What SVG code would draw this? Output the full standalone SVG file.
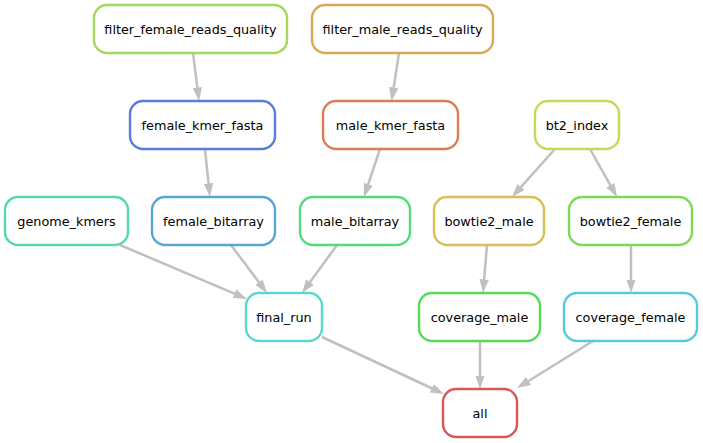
<svg xmlns="http://www.w3.org/2000/svg" width="703" height="443" viewBox="0 0 703 443">
<style>
.n rect{fill:#fff;stroke-width:2.4}
.n text{font-family:"DejaVu Sans",sans-serif;font-size:12.8px;text-anchor:middle;fill:#000}
.e path{fill:none;stroke:#c0c0c0;stroke-width:2.5}
</style>
<defs>
<marker id="ah" markerUnits="userSpaceOnUse" markerWidth="13.5" markerHeight="9.4" refX="0.5" refY="4.7" orient="auto" viewBox="0 0 13.5 9.4">
<path d="M0,0 L13.5,4.7 L0,9.4 z" fill="#c0c0c0"/>
</marker>
</defs>
<rect width="703" height="443" fill="#fff"/>
<g id="connectors" class="e">
<path d="M193,53 L197.4,88.1" marker-end="url(#ah)"/>
<path d="M399,53 L393.6,88.1" marker-end="url(#ah)"/>
<path d="M205,149 L208.6,184.1" marker-end="url(#ah)"/>
<path d="M380,149 L368.1,184.7" marker-end="url(#ah)"/>
<path d="M555,149 L520.7,187.3" marker-end="url(#ah)"/>
<path d="M590,149 L610.6,185.7" marker-end="url(#ah)"/>
<path d="M120,245 L235,293.9" marker-end="url(#ah)"/>
<path d="M231,245 L259.2,282.6" marker-end="url(#ah)"/>
<path d="M337,245 L309.7,282.5" marker-end="url(#ah)"/>
<path d="M487,245 L484.1,280" marker-end="url(#ah)"/>
<path d="M631,245 L631,280" marker-end="url(#ah)"/>
<path d="M322,337 L432.2,388.5" marker-end="url(#ah)"/>
<path d="M480,341 L480,376" marker-end="url(#ah)"/>
<path d="M593,341 L528.1,381.2" marker-end="url(#ah)"/>
</g>
<g id="filter_female_reads_quality" class="n"><rect x="94" y="5" width="193" height="48" rx="13" stroke="#a2d957"/><text x="190.5" y="33.5">filter_female_reads_quality</text></g>
<g id="filter_male_reads_quality" class="n"><rect x="312" y="5" width="181" height="48" rx="13" stroke="#d9a857"/><text x="402.5" y="33.5">filter_male_reads_quality</text></g>
<g id="female_kmer_fasta" class="n"><rect x="130" y="101" width="145" height="48" rx="13" stroke="#577ed9"/><text x="202.5" y="129.5">female_kmer_fasta</text></g>
<g id="male_kmer_fasta" class="n"><rect x="323" y="101" width="135" height="48" rx="13" stroke="#d97e57"/><text x="390.5" y="129.5">male_kmer_fasta</text></g>
<g id="bt2_index" class="n"><rect x="535" y="101" width="84" height="48" rx="13" stroke="#c6d957"/><text x="577" y="129.5">bt2_index</text></g>
<g id="genome_kmers" class="n"><rect x="5" y="197" width="123" height="48" rx="13" stroke="#57d9a5"/><text x="66.5" y="225.5">genome_kmers</text></g>
<g id="female_bitarray" class="n"><rect x="152" y="197" width="123" height="48" rx="13" stroke="#57a5d9"/><text x="213.5" y="225.5">female_bitarray</text></g>
<g id="male_bitarray" class="n"><rect x="300" y="197" width="110" height="48" rx="13" stroke="#57d97e"/><text x="355" y="225.5">male_bitarray</text></g>
<g id="bowtie2_male" class="n"><rect x="434" y="197" width="110" height="48" rx="13" stroke="#d9bf57"/><text x="489" y="225.5">bowtie2_male</text></g>
<g id="bowtie2_female" class="n"><rect x="569" y="197" width="123" height="48" rx="13" stroke="#7ed957"/><text x="630.5" y="225.5">bowtie2_female</text></g>
<g id="final_run" class="n"><rect x="246" y="293" width="76" height="48" rx="13" stroke="#57d9cc"/><text x="284" y="321.5">final_run</text></g>
<g id="coverage_male" class="n"><rect x="419" y="293" width="121" height="48" rx="13" stroke="#5ad957"/><text x="479.5" y="321.5">coverage_male</text></g>
<g id="coverage_female" class="n"><rect x="564" y="293" width="133" height="48" rx="13" stroke="#57ccd9"/><text x="630.5" y="321.5">coverage_female</text></g>
<g id="all" class="n"><rect x="443" y="389" width="74" height="48" rx="13" stroke="#d95757"/><text x="480" y="417.5">all</text></g>
</svg>
